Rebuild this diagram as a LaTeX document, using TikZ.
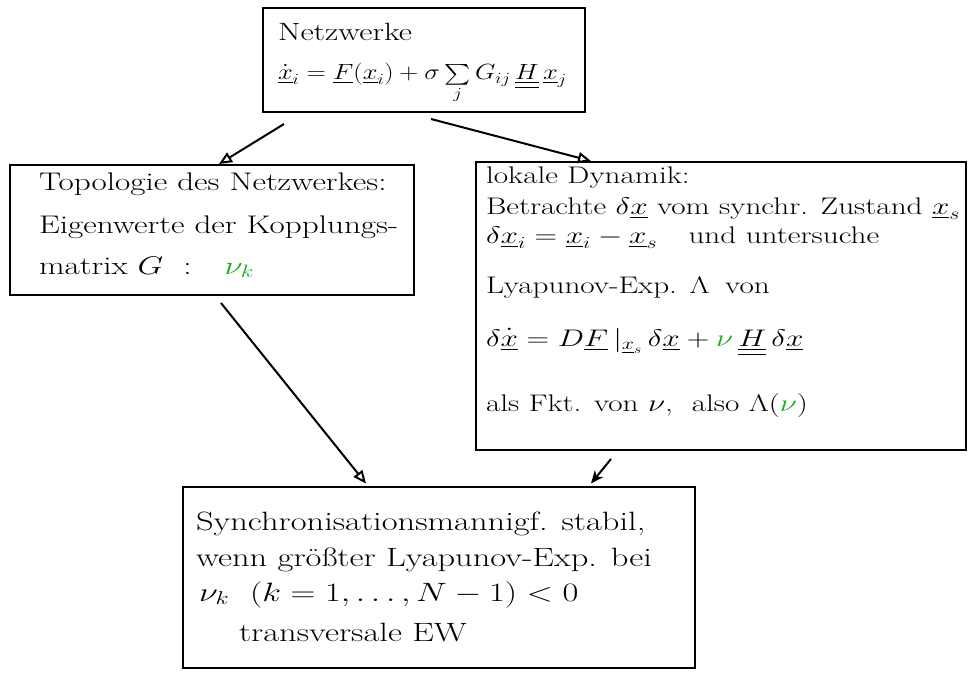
\RequirePackage{fix-cm}
\documentclass[tikz,border=0pt]{standalone}
\usepackage{amsmath}
\usepackage{fontspec}
\usepackage{graphicx}
\usetikzlibrary{arrows.meta,calc}
\definecolor{hgreen}{RGB}{30,170,30}
\newcommand{\hw}[1]{\scalebox{1.3}[1]{#1}}
\newcommand{\hwe}[1]{\scalebox{1.2}[1]{#1}}
\newcommand{\uu}[1]{\underline{\underline{#1}}}
\newcommand{\ul}[1]{\underline{#1}}
\newcommand{\xdot}{\overset{\textstyle .}{x}}
\begin{document}
\begin{tikzpicture}[x=1pt,y=-1pt,line width=2pt,
  box/.style={draw, rectangle, inner sep=0pt, line width=2pt},
  txt/.style={anchor=base west, inner sep=0pt, font=\fontsize{#1}{#1}\selectfont},
  txt/.default=22,
  openhead/.style={-{Triangle[open,length=13pt,width=11pt]}},
  fullhead/.style={-{Stealth[length=13pt,width=11pt]}}]
\useasboundingbox (0,0) rectangle (973,679);

% top box
\node[box, minimum width=322pt, minimum height=104pt] (top) at (424,60) {};
\node[txt=25] (t1) at (277,41) {\hw{Netzwerke}};
\node[txt=22] (t2) at (277,80) {\hwe{$\ul{\xdot}_i = \ul{F}(\ul{x}_i) + \sigma \sum\limits_j G_{ij}\,\uu{H}\,\ul{x}_j$}};

% left box
\node[box, minimum width=404pt, minimum height=130pt] (left) at (212,230) {};
\node[txt=25.5] (l1) at (38,190) {\hw{Topologie des Netzwerkes:}};
\node[txt=25.5] (l2) at (38,233) {\hw{Eigenwerte der Kopplungs-}};
\node[txt=25.5] (l3) at (38,274) {\hw{matrix $G$ \ :\quad {\color{hgreen}$\nu_k$}}};

% right box
\node[box, minimum width=490pt, minimum height=288pt] (right) at (721,306) {};
\node[txt=24] (r1) at (485,183) {\hw{lokale Dynamik:}};
\node[txt=24] (r2) at (485,214) {\hw{Betrachte $\delta\ul{x}$ vom synchr. Zustand $\ul{x}_s$}};
\node[txt=24] (r3) at (485,243) {\hw{$\delta\ul{x}_i = \ul{x}_i - \ul{x}_s$\quad und untersuche}};
\node[txt=24] (r4) at (485,293) {\hw{Lyapunov-Exp. $\Lambda$\enspace von}};
\node[txt=24] (r5) at (485,346) {\hw{$\delta\ul{\xdot} = D\ul{F}\,|_{\ul{x}_s}\,\delta\ul{x} + {\color{hgreen}\nu}\,\uu{H}\,\delta\ul{x}$}};
\node[txt=24] (r6) at (485,411) {\hw{als Fkt. von $\nu$, \ also $\Lambda({\color{hgreen}\nu})$}};

% bottom box
\node[box, minimum width=512pt, minimum height=181pt] (bot) at (439,577) {};
\node[txt=26.5] (b1) at (195,530) {\hw{Synchronisationsmannigf. stabil,}};
\node[txt=26.5] (b2) at (195,566) {\hw{wenn größter Lyapunov-Exp. bei}};
\node[txt=26.5] (b3) at (198,601) {\hw{$\nu_k$ \ $(k=1,\ldots,N-1) < 0$}};
\node[txt=26.5] (b4) at (238,641) {\hw{transversale EW}};

% connectors
\coordinate (a1s) at ([shift={(22,11)}]top.south west);
\coordinate (a1e) at ([shift={(210,0)}]left.north west);
\coordinate (a2s) at ([shift={(7,6)}]top.south);
\coordinate (a2e) at ([shift={(116,0)}]right.north west);
\coordinate (a3s) at ([shift={(212,7)}]left.south west);
\coordinate (a3e) at ([shift={(184,-2)}]bot.north west);
\coordinate (a4s) at ([shift={(136,8)}]right.south west);
\coordinate (a4e) at ([shift={(409,-2)}]bot.north west);
\draw[openhead] (a1s) -- (a1e);
\draw[openhead] (a2s) -- (a2e);
\draw[openhead] (a3s) -- (a3e);
\draw[fullhead] (a4s) -- (a4e);
\end{tikzpicture}
\end{document}
